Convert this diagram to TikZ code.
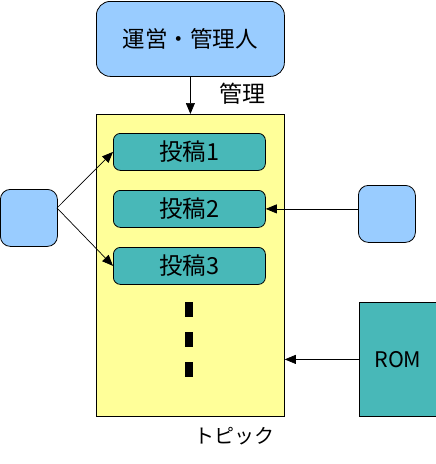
\documentclass[tikz,border=0pt]{standalone}
\usepackage{fontspec}
\newfontfamily\jp{Noto Sans CJK JP}
\usetikzlibrary{arrows.meta}
\definecolor{lblue}{HTML}{99CCFF}
\definecolor{tealc}{HTML}{48B8B8}
\definecolor{lyellow}{HTML}{FFFF99}
\begin{document}
\begin{tikzpicture}[x=1pt,y=-1pt,
  txt/.style={font=\jp\fontsize{#1}{#1}\selectfont, text=black},
  txt/.default=21,
  bluebox/.style={draw, line width=0.8pt, fill=lblue, anchor=north west, inner sep=0pt},
  postbox/.style={draw, line width=0.8pt, fill=tealc, rounded corners=7pt, anchor=north west, minimum width=152pt, minimum height=37pt, inner sep=0pt, txt=23.5},
  arr/.style={line width=0.7pt, -{Triangle[length=11pt,width=9pt]}}]
\useasboundingbox (0,0) rectangle (436,464);
\node[bluebox, rounded corners=14pt, minimum width=188pt, minimum height=75pt, txt=22.5] (op) at (96,1) {運営・管理人};
\node[draw, line width=0.8pt, fill=lyellow, anchor=north west, minimum width=188pt, minimum height=302pt, inner sep=0pt] (topic) at (96,114) {};
\node[postbox] (p1) at (113,133) {投稿1};
\node[postbox] (p2) at (113,190) {投稿2};
\node[postbox] (p3) at (113,247) {投稿3};
\node[bluebox, rounded corners=10pt, minimum width=57pt, minimum height=57pt] (lb) at (0,189) {};
\node[bluebox, rounded corners=10pt, minimum width=57pt, minimum height=57pt] (rb) at (358,185) {};
\node[draw, line width=0.8pt, fill=tealc, anchor=north west, minimum width=77pt, minimum height=114pt, inner sep=0pt, txt=21.5] (rom) at (359,302) {ROM};
\node[txt=23] (lk) at (242,94) {管理};
\node[txt=20] (lt) at (234,436) {トピック};
\foreach \y in {302,332,362} \fill (185,\y) rectangle (193,\y+15);
\coordinate (ls) at (57,208);
\draw[arr] (op.south) -- (topic.north);
\draw[arr] (ls) -- (p1.west);
\draw[arr] (ls) -- (p3.west);
\draw[arr] (p2.east -| rb.west) -- (p2.east);
\draw[arr] (rom.west) -- (rom.west -| topic.east);
\end{tikzpicture}
\end{document}
